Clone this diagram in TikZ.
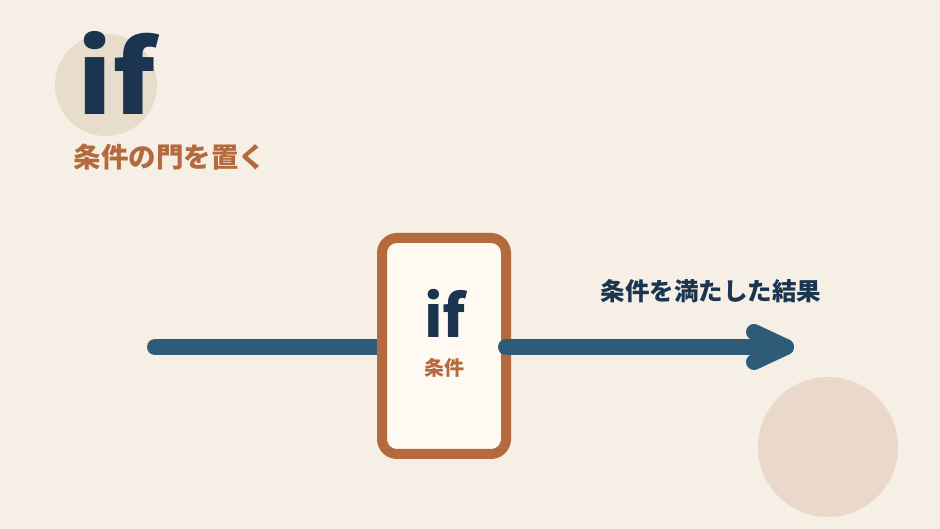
\documentclass[tikz,border=0pt]{standalone}
\usepackage{fontspec}
\setmainfont{Noto Sans CJK JP}
\usepackage{tikz}
\definecolor{paper}{HTML}{F5EFE5}
\definecolor{sand}{HTML}{E8DCCA}
\definecolor{blush}{HTML}{EAD8CB}
\definecolor{ink}{HTML}{1B3550}
\definecolor{flow}{HTML}{2E5C78}
\definecolor{rust}{HTML}{B56A3E}
\definecolor{cream}{HTML}{FEF9F1}

\begin{document}
\begin{tikzpicture}[x=1pt, y=1pt,
    label/.style={inner sep=0pt, font=\bfseries},
    flowline/.style={draw=flow, line width=16pt, line cap=round, line join=round}]
    \fill[paper] (0,0) rectangle (940,529);
    \useasboundingbox (0,0) rectangle (940,529);
    \fill[sand] (106,444) circle (51);
    \fill[blush] (828,82) circle (70);
    \node[label, text=ink, anchor=base west, xscale=1.09, transform shape,
        font=\fontsize{100}{100}\bfseries] (big) at (77,414) {if};
    \node[label, text=rust, font=\fontsize{27.5}{27.5}\bfseries] (title) at (170,372) {条件の門を置く};
    \coordinate (start) at (155,182);
    \coordinate (tip) at (786,182);
    \draw[flowline] (start) -- (444,182);
    \node[draw=rust, fill=cream, line width=10pt, rounded corners=15pt, outer sep=0pt,
        minimum width=124pt, minimum height=216pt] (gate) at (444,183) {};
    \node[label, text=ink, font=\fontsize{58}{58}\bfseries] (gateif) at (445,216) {if};
    \node[label, text=rust, font=\fontsize{20}{20}\bfseries] (gatecond) at (444,161) {条件};
    \draw[flowline] (gate.east |- tip) -- (tip);
    \draw[flowline] (tip) ++(-32,15) -- (tip) -- ++(-32,-15);
    \node[label, text=ink, font=\fontsize{24.5}{24.5}\bfseries] (result) at (711,238) {条件を満たした結果};
\end{tikzpicture}
\end{document}
